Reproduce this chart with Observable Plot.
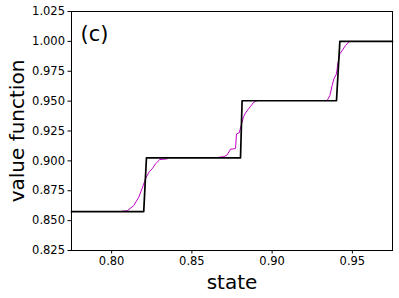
<!DOCTYPE html>
<html><head><meta charset="utf-8">
<script src="https://cdn.jsdelivr.net/npm/d3@7"></script>
<script src="https://cdn.jsdelivr.net/npm/@observablehq/plot@0.6"></script>
<style>body{margin:0;background:#fff}</style>
</head><body><div id="chart"></div>
<script>
const xTicks = [0.80, 0.85, 0.90, 0.95];
const yTicks = [0.825, 0.850, 0.875, 0.900, 0.925, 0.950, 0.975, 1.000, 1.025];

const stepX = [0.775, 0.820, 0.8217, 0.8803, 0.8813, 0.9401, 0.9422, 0.975];
const stepY = [0.8575, 0.8575, 0.9025, 0.9025, 0.9503, 0.9503, 1.0, 1.0];

const seg1X = [0.8066, 0.8097, 0.8138, 0.8169, 0.8197, 0.8211, 0.8232, 0.8253, 0.8273, 0.8300, 0.8346];
const seg1Y = [0.8579, 0.8582, 0.8626, 0.8696, 0.8794, 0.8850, 0.8905, 0.8934, 0.8975, 0.9011, 0.9017];
const seg2X = [0.8668, 0.8700, 0.8720, 0.8741, 0.8760, 0.8772, 0.8778, 0.8795, 0.8810, 0.8822, 0.8834, 0.8850, 0.8865, 0.8885, 0.8905];
const seg2Y = [0.9030, 0.9035, 0.9050, 0.9098, 0.9100, 0.9105, 0.9225, 0.9235, 0.9310, 0.9370, 0.9400, 0.9430, 0.9455, 0.9490, 0.9503];
const seg3X = [0.9343, 0.9360, 0.9374, 0.9385, 0.9401, 0.9409, 0.9422, 0.9437, 0.9457, 0.9484];
const seg3Y = [0.9505, 0.9547, 0.9631, 0.9687, 0.9728, 0.9812, 0.9896, 0.9924, 0.9966, 1.0];

const step = stepX.map((x, i) => ({x, y: stepY[i]}));
const approx = [
  ...seg1X.map((x, i) => ({x, y: seg1Y[i], s: 1})),
  ...seg2X.map((x, i) => ({x, y: seg2Y[i], s: 2})),
  ...seg3X.map((x, i) => ({x, y: seg3Y[i], s: 3}))
];

const chart = Plot.plot({
  width: 399, height: 298,
  marginLeft: 71, marginRight: 7, marginTop: 11, marginBottom: 48,
  style: {fontFamily: "DejaVu Sans", fontSize: "11.5px", color: "black", background: "white"},
  x: {domain: [0.775, 0.975]},
  y: {domain: [0.825, 1.025]},
  marks: [
    Plot.line(approx, {x: "x", y: "y", z: "s", stroke: "#c000c8", strokeWidth: 1}),
    Plot.line(step, {x: "x", y: "y", stroke: "black", strokeWidth: 1.7}),
    Plot.frame({stroke: "black", strokeWidth: 1}),
    Plot.axisX({ticks: xTicks, tickFormat: d3.format(".2f"), tickSize: 3.5, tickPadding: 3, label: null, stroke: "black"}),
    Plot.axisY({ticks: yTicks, tickFormat: d3.format(".3f"), tickSize: 3.5, tickPadding: 3, label: null, stroke: "black"}),
    Plot.text(["state"], {frameAnchor: "bottom", lineAnchor: "middle", textAnchor: "middle", dy: 32, fontSize: 20, fill: "black"}),
    Plot.text(["value function"], {frameAnchor: "left", textAnchor: "middle", lineAnchor: "middle", dx: -53.5, rotate: -90, fontSize: 20, fill: "black"}),
    Plot.text(["(c)"], {frameAnchor: "top-left", textAnchor: "start", lineAnchor: "middle", dx: 9, dy: 23, fontSize: 21, fill: "black"})
  ]
});
document.getElementById("chart").appendChild(chart);
</script>
</body></html>
